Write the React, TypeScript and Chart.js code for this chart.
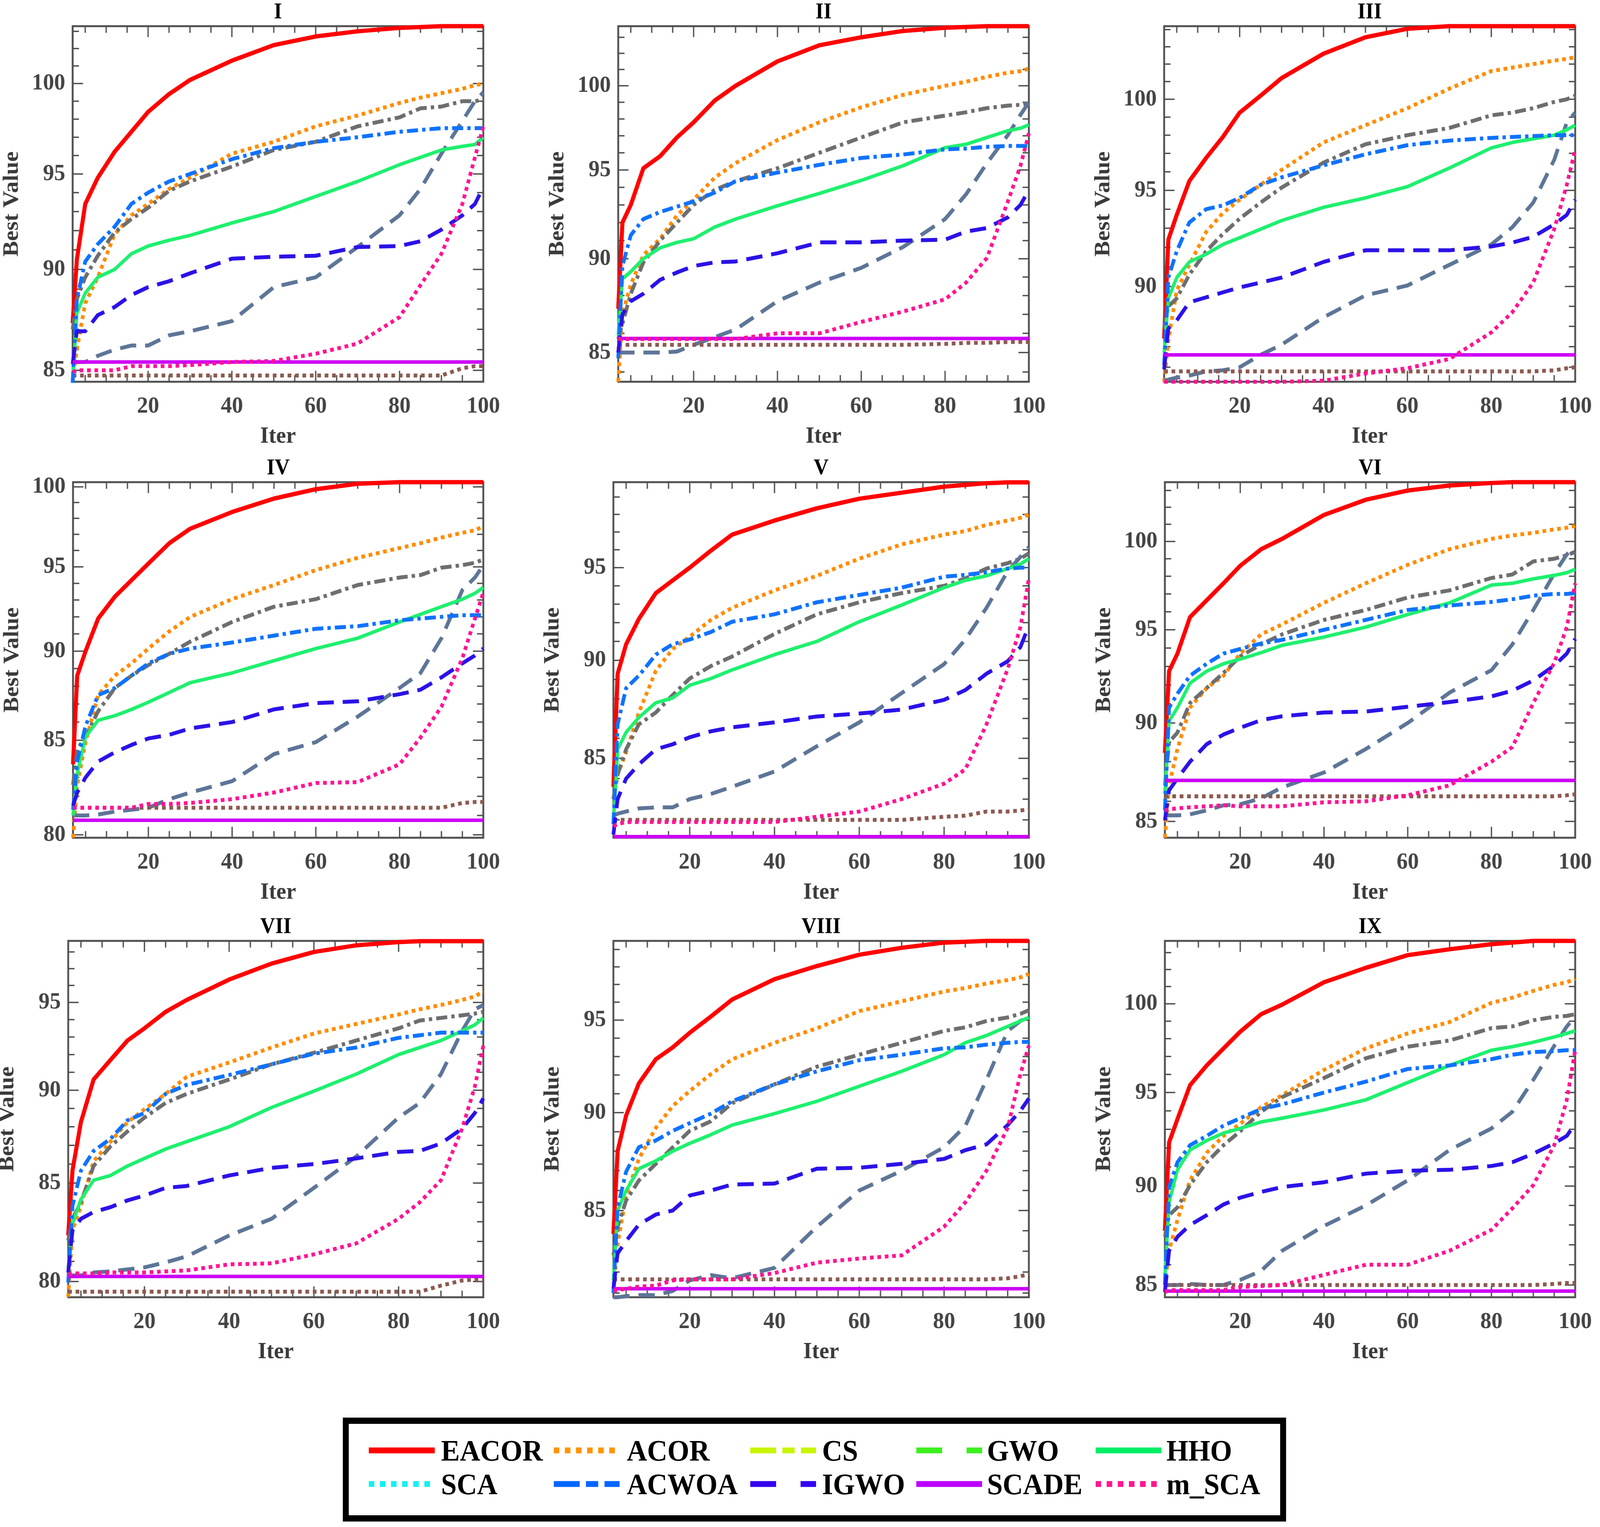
import { useEffect, useRef } from "react";
import { Chart, registerables } from "chart.js";

Chart.register(...registerables);

const SERIF = '"Liberation Serif", "Times New Roman", serif';

const ITERS = [2, 3, 5, 8, 12, 16, 20, 25, 30, 40, 50, 60, 70, 80, 85, 90, 95, 98, 100];

const PANEL_TITLES = ["I", "II", "III", "IV", "V", "VI", "VII", "VIII", "IX"];
const Y_MIN = [84.45, 83.5, 85.3, 79.85, 81.15, 84.2, 79.23, 80.8, 84.4];
const Y_MAX = [103.3, 103.7, 104.2, 100.3, 99.86, 103.5, 98.67, 99.5, 103.7];
const Y_TICKS = [
  [85, 90, 95, 100],
  [85, 90, 95, 100],
  [90, 95, 100],
  [80, 85, 90, 95, 100],
  [85, 90, 95],
  [85, 90, 95, 100],
  [80, 85, 90, 95],
  [85, 90, 95],
  [85, 90, 95, 100],
];
const X_TICKS = [20, 40, 60, 80, 100];

const EACOR = [
  [87.3, 90.5, 93.4, 94.8, 96.2, 97.3, 98.4, 99.4, 100.2, 101.3, 102.2, 102.7, 103.0, 103.2, 103.25, 103.3, 103.3, 103.3, 103.3],
  [87.3, 92.0, 93.0, 95.1, 95.8, 96.9, 97.8, 99.1, 100.0, 101.5, 102.5, 103.0, 103.4, 103.6, 103.65, 103.7, 103.7, 103.7, 103.7],
  [87.4, 92.4, 93.7, 95.5, 96.75, 97.9, 99.25, 100.2, 101.2, 102.6, 103.55, 104.05, 104.2, 104.2, 104.2, 104.2, 104.2, 104.2, 104.2],
  [83.7, 88.6, 90.0, 91.9, 93.2, 94.2, 95.2, 96.45, 97.35, 98.4, 99.25, 99.85, 100.2, 100.3, 100.3, 100.3, 100.3, 100.3, 100.3],
  [83.6, 89.3, 90.85, 92.2, 93.6, 94.3, 95.0, 95.95, 96.85, 97.65, 98.35, 98.9, 99.25, 99.6, 99.7, 99.8, 99.85, 99.85, 99.85],
  [88.45, 92.75, 93.7, 95.7, 96.65, 97.6, 98.6, 99.55, 100.15, 101.55, 102.45, 103.0, 103.3, 103.45, 103.5, 103.5, 103.5, 103.5, 103.5],
  [82.3, 85.65, 88.25, 90.6, 91.7, 92.8, 93.5, 94.45, 95.15, 96.35, 97.3, 98.0, 98.4, 98.6, 98.65, 98.65, 98.65, 98.65, 98.65],
  [83.85, 88.0, 89.85, 91.55, 92.85, 93.5, 94.3, 95.2, 96.15, 97.3, 98.05, 98.7, 99.1, 99.4, 99.45, 99.5, 99.5, 99.5, 99.5],
  [87.7, 92.3, 93.55, 95.4, 96.5, 97.45, 98.4, 99.4, 99.95, 101.25, 102.1, 102.85, 103.2, 103.5, 103.6, 103.7, 103.7, 103.7, 103.7],
];

const ACOR = [
  [84.5, 86.0, 88.3, 89.6, 91.8, 92.8, 93.4, 94.2, 94.8, 96.1, 96.75, 97.6, 98.2, 98.9, 99.2, 99.45, 99.7, 99.9, 100.0],
  [83.5, 87.0, 88.6, 90.2, 91.1, 92.4, 93.3, 94.55, 95.4, 96.75, 97.8, 98.7, 99.45, 100.0, 100.25, 100.55, 100.8, 100.9, 101.05],
  [85.3, 87.3, 89.8, 91.1, 92.8, 93.8, 94.5, 95.3, 96.1, 97.6, 98.55, 99.5, 100.6, 101.6, 101.8, 102.0, 102.2, 102.3, 102.4],
  [79.85, 82.6, 84.9, 87.5, 88.6, 89.3, 90.15, 91.15, 92.0, 93.05, 93.9, 94.8, 95.55, 96.15, 96.45, 96.8, 97.1, 97.25, 97.5],
  [83.0, 84.2, 85.3, 87.3, 89.45, 90.6, 91.25, 92.15, 92.8, 93.75, 94.55, 95.5, 96.3, 96.85, 97.05, 97.4, 97.65, 97.8, 98.0],
  [84.2, 86.8, 88.65, 90.8, 91.85, 92.5, 93.7, 94.75, 95.3, 96.5, 97.6, 98.65, 99.55, 100.15, 100.35, 100.5, 100.7, 100.8, 100.9],
  [79.25, 82.55, 83.8, 86.15, 87.2, 88.25, 88.95, 89.8, 90.75, 91.55, 92.4, 93.2, 93.75, 94.3, 94.6, 94.85, 95.15, 95.35, 95.65],
  [81.0, 83.35, 85.75, 87.6, 89.2, 90.35, 91.15, 92.05, 92.85, 93.75, 94.55, 95.5, 96.05, 96.6, 96.8, 97.05, 97.25, 97.4, 97.6],
  [85.0, 86.7, 88.25, 90.3, 91.75, 92.65, 93.3, 94.2, 94.85, 96.25, 97.45, 98.3, 98.95, 100.05, 100.35, 100.75, 101.1, 101.25, 101.45],
];

const CS = [
  [87.0, 88.5, 89.6, 90.7, 91.9, 92.6, 93.2, 94.1, 94.6, 95.4, 96.3, 96.75, 97.6, 98.1, 98.6, 98.7, 99.0, 99.0, 99.1],
  [85.7, 86.5, 88.1, 89.8, 91.0, 92.0, 93.0, 93.85, 94.35, 95.1, 96.0, 96.9, 97.8, 98.2, 98.4, 98.65, 98.8, 98.85, 98.95],
  [87.9, 89.0, 89.4, 90.6, 91.8, 92.7, 93.5, 94.35, 95.15, 96.5, 97.5, 98.0, 98.4, 99.1, 99.25, 99.5, 99.85, 100.0, 100.2],
  [82.6, 84.5, 85.2, 86.6, 87.9, 88.6, 89.2, 89.85, 90.55, 91.7, 92.6, 93.05, 93.9, 94.35, 94.5, 94.95, 95.1, 95.25, 95.45],
  [83.0, 84.2, 85.45, 86.7, 87.3, 88.2, 89.05, 89.7, 90.2, 91.4, 92.45, 93.1, 93.6, 94.0, 94.4, 94.95, 95.25, 95.5, 95.8],
  [86.8, 89.0, 89.5, 91.05, 91.85, 92.65, 93.55, 94.2, 94.75, 95.55, 96.1, 96.8, 97.2, 97.9, 98.1, 98.85, 99.0, 99.2, 99.4],
  [82.05, 83.15, 84.0, 85.9, 86.95, 87.75, 88.5, 89.3, 89.8, 90.6, 91.45, 92.1, 92.8, 93.5, 93.95, 94.1, 94.25, 94.35, 94.45],
  [82.8, 84.2, 85.5, 86.5, 87.35, 88.2, 89.05, 89.55, 90.5, 91.5, 92.45, 93.1, 93.75, 94.4, 94.6, 94.95, 95.15, 95.35, 95.55],
  [87.4, 88.5, 88.9, 90.05, 91.25, 92.15, 92.9, 93.95, 94.75, 95.8, 96.9, 97.55, 97.9, 98.6, 98.7, 99.05, 99.25, 99.3, 99.4],
];

const GWO = [
  [85.5, 85.4, 85.4, 85.7, 86.0, 86.2, 86.2, 86.7, 86.9, 87.4, 89.1, 89.6, 91.15, 92.8, 94.2, 96.1, 97.9, 99.0, 99.5],
  [85.0, 85.0, 85.0, 85.0, 85.0, 85.05, 85.4, 85.8, 86.2, 87.7, 88.7, 89.5, 90.65, 92.2, 93.6, 95.4, 97.05, 98.25, 99.0],
  [85.35, 85.4, 85.5, 85.6, 85.8, 85.85, 86.0, 86.6, 87.1, 88.45, 89.55, 90.05, 91.1, 92.15, 93.05, 94.35, 96.65, 98.7, 99.25],
  [81.0, 81.0, 81.0, 81.05, 81.2, 81.3, 81.4, 81.85, 82.2, 82.8, 84.25, 84.9, 86.3, 87.9, 88.75, 90.75, 93.6, 94.35, 95.1],
  [82.2, 82.3, 82.4, 82.55, 82.6, 82.6, 83.0, 83.25, 83.6, 84.35, 85.6, 86.8, 88.3, 89.8, 91.1, 92.8, 94.8, 95.6, 96.15],
  [85.3, 85.3, 85.3, 85.35, 85.55, 85.8, 85.85, 86.15, 86.7, 87.45, 88.65, 90.0, 91.6, 92.8, 94.2, 96.1, 98.15, 99.25, 99.7],
  [80.3, 80.3, 80.3, 80.45, 80.5, 80.6, 80.7, 80.95, 81.25, 82.3, 83.15, 84.75, 86.4, 88.5, 89.3, 90.9, 93.35, 94.6, 94.85],
  [80.8, 80.8, 80.85, 80.9, 80.9, 81.1, 81.6, 81.85, 81.7, 82.2, 84.2, 86.0, 87.0, 88.2, 89.3, 91.75, 94.4, 94.95, 95.2],
  [85.0, 85.0, 85.0, 85.05, 85.0, 85.0, 85.25, 85.7, 86.7, 87.95, 89.0, 90.3, 91.9, 93.05, 93.95, 95.7, 97.6, 98.7, 99.25],
];

const HHO = [
  [84.5, 87.8, 88.8, 89.6, 90.0, 90.8, 91.2, 91.5, 91.75, 92.4, 93.0, 93.8, 94.6, 95.5, 95.9, 96.3, 96.5, 96.6, 97.0],
  [85.9, 88.9, 89.3, 90.0, 90.6, 90.9, 91.1, 91.75, 92.2, 92.95, 93.65, 94.4, 95.25, 96.3, 96.5, 96.9, 97.3, 97.45, 97.65],
  [86.7, 89.4, 90.45, 91.25, 91.65, 92.15, 92.5, 92.95, 93.4, 94.1, 94.6, 95.2, 96.2, 97.3, 97.6, 97.8, 98.0, 98.3, 98.55],
  [81.0, 83.2, 85.2, 86.1, 86.35, 86.7, 87.1, 87.65, 88.2, 88.75, 89.45, 90.15, 90.75, 91.7, 92.15, 92.6, 93.05, 93.4, 93.75],
  [81.8, 85.45, 86.3, 87.05, 87.8, 88.05, 88.7, 89.05, 89.5, 90.3, 91.0, 92.05, 92.95, 93.9, 94.3, 94.55, 94.95, 95.2, 95.5],
  [86.4, 90.1, 90.8, 92.1, 92.75, 93.15, 93.4, 93.75, 94.15, 94.6, 95.15, 95.85, 96.5, 97.5, 97.6, 97.85, 98.05, 98.2, 98.4],
  [80.65, 82.9, 84.15, 85.15, 85.4, 85.9, 86.3, 86.8, 87.2, 88.0, 89.05, 89.95, 90.9, 92.0, 92.4, 92.8, 93.35, 93.7, 94.1],
  [81.6, 85.0, 86.0, 87.1, 87.5, 88.0, 88.4, 88.85, 89.35, 89.95, 90.6, 91.4, 92.2, 93.1, 93.75, 94.15, 94.65, 94.95, 95.15],
  [85.35, 89.15, 90.85, 91.9, 92.4, 92.8, 93.05, 93.4, 93.6, 94.05, 94.6, 95.55, 96.5, 97.35, 97.55, 97.8, 98.1, 98.3, 98.45],
];

const SCA = [
  [84.75, 84.75, 84.75, 84.75, 84.75, 84.75, 84.75, 84.75, 84.75, 84.75, 84.75, 84.75, 84.75, 84.75, 84.75, 84.75, 85.1, 85.2, 85.2],
  [85.4, 85.4, 85.4, 85.4, 85.4, 85.4, 85.4, 85.4, 85.4, 85.4, 85.4, 85.4, 85.4, 85.45, 85.5, 85.5, 85.55, 85.55, 85.55],
  [85.8, 85.8, 85.8, 85.8, 85.8, 85.8, 85.8, 85.8, 85.8, 85.8, 85.8, 85.8, 85.8, 85.8, 85.8, 85.8, 85.85, 85.95, 86.0],
  [81.4, 81.4, 81.4, 81.4, 81.4, 81.4, 81.4, 81.4, 81.4, 81.4, 81.4, 81.4, 81.4, 81.4, 81.4, 81.4, 81.65, 81.7, 81.7],
  [82.0, 82.0, 82.0, 82.0, 82.0, 82.0, 82.0, 82.0, 82.0, 82.0, 82.0, 82.0, 82.0, 82.15, 82.2, 82.4, 82.4, 82.45, 82.5],
  [86.25, 86.25, 86.25, 86.25, 86.25, 86.25, 86.25, 86.25, 86.25, 86.25, 86.25, 86.25, 86.25, 86.25, 86.25, 86.25, 86.25, 86.3, 86.35],
  [79.5, 79.5, 79.5, 79.5, 79.5, 79.5, 79.5, 79.5, 79.5, 79.5, 79.5, 79.5, 79.5, 79.5, 79.5, 79.8, 80.05, 80.1, 80.1],
  [81.65, 81.65, 81.65, 81.65, 81.65, 81.65, 81.65, 81.65, 81.65, 81.65, 81.65, 81.65, 81.65, 81.65, 81.65, 81.65, 81.7, 81.8, 81.9],
  [85.0, 85.0, 85.0, 85.0, 85.0, 85.0, 85.0, 85.0, 85.0, 85.0, 85.0, 85.0, 85.0, 85.0, 85.0, 85.0, 85.05, 85.1, 85.1],
];

const ACWOA = [
  [84.4, 88.5, 90.4, 91.3, 92.2, 93.4, 94.0, 94.6, 95.0, 95.8, 96.4, 96.75, 97.0, 97.3, 97.4, 97.5, 97.5, 97.5, 97.5],
  [84.7, 89.6, 91.3, 92.2, 92.6, 92.9, 93.2, 93.7, 94.35, 94.85, 95.3, 95.7, 95.9, 96.2, 96.25, 96.35, 96.4, 96.4, 96.4],
  [86.1, 90.45, 91.8, 93.3, 94.0, 94.2, 94.6, 95.3, 95.7, 96.35, 96.95, 97.45, 97.7, 97.85, 97.9, 97.95, 98.0, 98.0, 98.0],
  [81.3, 83.85, 85.8, 87.5, 87.9, 88.6, 89.3, 89.85, 90.15, 90.5, 90.9, 91.3, 91.45, 91.8, 91.9, 92.0, 92.1, 92.1, 92.1],
  [81.8, 86.7, 88.55, 89.2, 90.3, 90.85, 91.1, 91.5, 92.05, 92.45, 93.1, 93.5, 93.9, 94.5, 94.6, 94.75, 94.95, 95.0, 95.0],
  [85.55, 90.8, 91.55, 92.5, 93.15, 93.7, 93.95, 94.25, 94.45, 95.0, 95.55, 96.1, 96.35, 96.55, 96.7, 96.9, 97.0, 97.0, 97.05],
  [79.95, 83.8, 85.65, 86.7, 87.35, 88.35, 88.75, 89.8, 90.3, 90.85, 91.45, 92.05, 92.4, 92.95, 93.1, 93.25, 93.25, 93.25, 93.25],
  [81.0, 85.15, 86.95, 88.2, 88.55, 89.05, 89.45, 89.95, 90.6, 91.5, 92.2, 92.8, 93.1, 93.45, 93.5, 93.65, 93.75, 93.8, 93.8],
  [85.0, 89.95, 91.25, 92.15, 92.65, 93.2, 93.6, 94.1, 94.35, 95.0, 95.6, 96.3, 96.5, 96.85, 97.1, 97.25, 97.3, 97.35, 97.35],
];

const IGWO = [
  [85.3, 86.9, 86.9, 87.7, 88.1, 88.7, 89.1, 89.4, 89.8, 90.55, 90.65, 90.7, 91.15, 91.2, 91.45, 92.05, 92.8, 93.4, 94.3],
  [85.0, 87.0, 87.7, 88.1, 88.85, 89.25, 89.6, 89.8, 89.85, 90.3, 90.9, 90.9, 91.0, 91.05, 91.5, 91.7, 92.3, 93.0, 93.85],
  [85.9, 87.9, 88.3, 89.2, 89.45, 89.7, 89.95, 90.2, 90.45, 91.25, 91.85, 91.85, 91.85, 92.05, 92.25, 92.55, 93.2, 93.7, 94.5],
  [81.5, 82.2, 83.0, 83.85, 84.35, 84.75, 85.1, 85.3, 85.65, 86.0, 86.7, 87.05, 87.15, 87.55, 87.8, 88.5, 89.3, 89.75, 90.15],
  [81.3, 83.0, 84.0, 84.7, 85.45, 85.7, 86.05, 86.35, 86.55, 86.8, 87.1, 87.25, 87.45, 87.95, 88.45, 89.3, 89.95, 90.7, 91.85],
  [85.05, 86.55, 87.15, 88.0, 88.9, 89.4, 89.75, 90.15, 90.35, 90.55, 90.6, 90.85, 91.1, 91.4, 91.7, 92.25, 93.05, 93.7, 94.5],
  [80.45, 82.55, 83.15, 83.5, 83.75, 84.1, 84.35, 84.75, 84.85, 85.4, 85.8, 86.0, 86.3, 86.65, 86.7, 87.1, 87.9, 88.75, 89.55],
  [81.2, 82.9, 83.5, 84.3, 84.8, 85.0, 85.75, 86.0, 86.3, 86.35, 87.1, 87.15, 87.35, 87.6, 88.05, 88.35, 89.35, 90.1, 90.75],
  [84.65, 86.7, 87.4, 88.0, 88.5, 89.05, 89.4, 89.7, 89.95, 90.2, 90.65, 90.8, 90.85, 91.05, 91.25, 91.7, 92.25, 92.65, 93.3],
];

const SCADE = [
  [85.4, 85.4, 85.4, 85.4, 85.4, 85.4, 85.4, 85.4, 85.4, 85.4, 85.4, 85.4, 85.4, 85.4, 85.4, 85.4, 85.4, 85.4, 85.4],
  [85.73, 85.73, 85.73, 85.73, 85.73, 85.73, 85.73, 85.73, 85.73, 85.73, 85.73, 85.73, 85.73, 85.73, 85.73, 85.73, 85.73, 85.73, 85.73],
  [86.6, 86.6, 86.6, 86.6, 86.6, 86.6, 86.6, 86.6, 86.6, 86.6, 86.6, 86.6, 86.6, 86.6, 86.6, 86.6, 86.6, 86.6, 86.6],
  [80.75, 80.75, 80.75, 80.75, 80.75, 80.75, 80.75, 80.75, 80.75, 80.75, 80.75, 80.75, 80.75, 80.75, 80.75, 80.75, 80.75, 80.75, 80.75],
  [81.2, 81.2, 81.2, 81.2, 81.2, 81.2, 81.2, 81.2, 81.2, 81.2, 81.2, 81.2, 81.2, 81.2, 81.2, 81.2, 81.2, 81.2, 81.2],
  [87.05, 87.05, 87.05, 87.05, 87.05, 87.05, 87.05, 87.05, 87.05, 87.05, 87.05, 87.05, 87.05, 87.05, 87.05, 87.05, 87.05, 87.05, 87.05],
  [80.25, 80.25, 80.25, 80.25, 80.25, 80.25, 80.25, 80.25, 80.25, 80.25, 80.25, 80.25, 80.25, 80.25, 80.25, 80.25, 80.25, 80.25, 80.25],
  [81.2, 81.2, 81.2, 81.2, 81.2, 81.2, 81.2, 81.2, 81.2, 81.2, 81.2, 81.2, 81.2, 81.2, 81.2, 81.2, 81.2, 81.2, 81.2],
  [84.7, 84.7, 84.7, 84.7, 84.7, 84.7, 84.7, 84.7, 84.7, 84.7, 84.7, 84.7, 84.7, 84.7, 84.7, 84.7, 84.7, 84.7, 84.7],
];

const M_SCA = [
  [84.9, 85.0, 85.0, 85.0, 85.0, 85.2, 85.2, 85.2, 85.25, 85.4, 85.45, 85.8, 86.3, 87.6, 89.2, 90.8, 93.4, 95.9, 97.6],
  [85.7, 85.7, 85.7, 85.7, 85.7, 85.7, 85.7, 85.7, 85.7, 86.0, 86.0, 86.6, 87.15, 87.8, 88.7, 90.05, 93.2, 95.25, 97.15],
  [85.3, 85.3, 85.3, 85.3, 85.3, 85.3, 85.3, 85.3, 85.3, 85.35, 85.7, 85.95, 86.4, 87.7, 88.7, 90.2, 92.95, 95.3, 97.2],
  [81.4, 81.4, 81.4, 81.4, 81.4, 81.4, 81.6, 81.6, 81.65, 81.85, 82.2, 82.7, 82.75, 83.7, 85.15, 86.85, 89.6, 91.9, 93.45],
  [81.7, 81.8, 81.9, 81.9, 81.9, 81.9, 81.9, 81.9, 81.9, 81.9, 82.15, 82.4, 83.0, 83.75, 84.45, 86.7, 89.55, 91.75, 94.4],
  [85.55, 85.6, 85.65, 85.7, 85.75, 85.8, 85.75, 85.75, 85.75, 85.95, 86.0, 86.3, 86.8, 88.0, 88.75, 91.05, 93.2, 95.15, 97.6],
  [80.35, 80.4, 80.4, 80.4, 80.45, 80.45, 80.45, 80.5, 80.55, 80.85, 80.9, 81.35, 81.9, 83.15, 84.0, 85.15, 87.9, 90.2, 92.5],
  [81.1, 81.15, 81.2, 81.3, 81.35, 81.6, 81.65, 81.65, 81.65, 81.95, 82.45, 82.65, 82.8, 84.2, 85.4, 87.0, 89.2, 92.05, 93.6],
  [84.65, 84.75, 84.75, 84.75, 84.75, 84.75, 84.9, 84.95, 85.0, 85.5, 86.0, 86.0, 86.7, 87.75, 88.85, 90.05, 92.15, 94.6, 97.35],
];

// line styles used inside the panels
const SERIES = [
  { name: "EACOR", values: EACOR, color: "#ff0000", dash: [], width: 11 },
  { name: "ACOR", values: ACOR, color: "#ff8c00", dash: [10, 10], width: 10 },
  { name: "CS", values: CS, color: "#6e6e6e", dash: [30, 11, 9, 11], width: 10 },
  { name: "GWO", values: GWO, color: "#5d7597", dash: [44, 24], width: 10 },
  { name: "HHO", values: HHO, color: "#1ef06e", dash: [], width: 9 },
  { name: "SCA", values: SCA, color: "#8c5a50", dash: [10, 10], width: 10 },
  { name: "ACWOA", values: ACWOA, color: "#0f72ff", dash: [30, 11, 9, 11], width: 10 },
  { name: "IGWO", values: IGWO, color: "#2b12e8", dash: [44, 24], width: 10 },
  { name: "SCADE", values: SCADE, color: "#cc00f5", dash: [], width: 9 },
  { name: "m_SCA", values: M_SCA, color: "#ff1493", dash: [10, 10], width: 10 },
];

// swatches of the legend box
const LEGEND = [
  { name: "EACOR", color: "#ff0000", dash: "" },
  { name: "ACOR", color: "#ff9400", dash: "15 15" },
  { name: "CS", color: "#c8f500", dash: "70 17 33 17" },
  { name: "GWO", color: "#3cf01e", dash: "70 66" },
  { name: "HHO", color: "#00ee66", dash: "" },
  { name: "SCA", color: "#14f0f0", dash: "15 15" },
  { name: "ACWOA", color: "#0066ff", dash: "70 17 33 17" },
  { name: "IGWO", color: "#3300ee", dash: "70 66" },
  { name: "SCADE", color: "#bb00ff", dash: "" },
  { name: "m_SCA", color: "#ff1493", dash: "15 15" },
];

// page layout (px, in the 4317 x 3908 design frame)
const PAGE_W = 4317;
const PAGE_H = 3908;
const PLOT_LEFT = [196, 1668, 3141, 197, 1655, 3143, 184, 1655, 3143];
const COL_RIGHT = [1316, 2788, 4262];
const ROW_TOP = [67, 1234, 2408];
const ROW_BOTTOM = [977, 2144, 3320];
const AXIS_W = 200;
const TITLE_H = 80;
const XAXIS_H = 190;
const RIGHT_PAD = 60;

const framePlugin = {
  id: "matlabFrame",
  beforeDatasetsDraw(chart: any) {
    const { ctx, chartArea: a } = chart;
    const x = chart.scales.x;
    const y = chart.scales.y;
    ctx.save();
    ctx.strokeStyle = "#505050";
    ctx.lineWidth = 3.5;
    ctx.beginPath();
    for (let v = Math.ceil(y.min); v <= Math.floor(y.max); v++) {
      const py = y.getPixelForValue(v);
      const len = v % 5 === 0 ? 28 : 17;
      ctx.moveTo(a.left, py);
      ctx.lineTo(a.left + len, py);
      ctx.moveTo(a.right, py);
      ctx.lineTo(a.right - len, py);
    }
    for (let v = 5; v <= 100; v += 5) {
      const px = x.getPixelForValue(v);
      const len = v % 20 === 0 ? 28 : 17;
      ctx.moveTo(px, a.bottom);
      ctx.lineTo(px, a.bottom - len);
      ctx.moveTo(px, a.top);
      ctx.lineTo(px, a.top + len);
    }
    ctx.stroke();
    ctx.lineWidth = 5;
    ctx.strokeRect(a.left, a.top, a.right - a.left, a.bottom - a.top);
    ctx.restore();
  },
};

function Panel({ index }: { index: number }) {
  const canvasRef = useRef<HTMLCanvasElement>(null);
  const col = index % 3;
  const row = Math.floor(index / 3);
  const left = PLOT_LEFT[index] - AXIS_W;
  const top = ROW_TOP[row] - TITLE_H;
  const width = COL_RIGHT[col] - PLOT_LEFT[index] + AXIS_W + RIGHT_PAD;
  const height = ROW_BOTTOM[row] - ROW_TOP[row] + TITLE_H + XAXIS_H;

  useEffect(() => {
    if (!canvasRef.current) return;
    const tickFont = { family: SERIF, size: 60, weight: "bold" as const, lineHeight: 1.2 };
    const chart = new Chart(canvasRef.current, {
      type: "line",
      data: {
        datasets: SERIES.map((s, i) => ({
          label: s.name,
          data: ITERS.map((it, k) => ({ x: it, y: s.values[index][k] })),
          borderColor: s.color,
          backgroundColor: s.color,
          borderWidth: s.width,
          borderDash: s.dash,
          borderCapStyle: "butt" as const,
          borderJoinStyle: "round" as const,
          pointRadius: 0,
          pointHoverRadius: 0,
          fill: false,
          tension: 0,
          clip: 10,
          order: SERIES.length - i,
        })),
      },
      options: {
        animation: false,
        responsive: false,
        events: [],
        layout: { padding: { left: 0, right: RIGHT_PAD, top: 0, bottom: 0 } },
        scales: {
          x: {
            type: "linear",
            min: 2,
            max: 100,
            afterBuildTicks: (scale: any) => {
              scale.ticks = X_TICKS.map((v) => ({ value: v }));
            },
            afterFit: (scale: any) => {
              scale.height = XAXIS_H;
            },
            grid: { display: false, drawTicks: false },
            border: { display: false },
            ticks: { font: tickFont, color: "#444444", padding: 27, maxRotation: 0, autoSkip: false },
            title: {
              display: true,
              text: "Iter",
              font: tickFont,
              color: "#3a3a3a",
              padding: { top: 0, bottom: 14 },
            },
          },
          y: {
            type: "logarithmic",
            min: Y_MIN[index],
            max: Y_MAX[index],
            afterBuildTicks: (scale: any) => {
              scale.ticks = Y_TICKS[index].map((v) => ({ value: v }));
            },
            afterFit: (scale: any) => {
              scale.width = AXIS_W;
            },
            grid: { display: false, drawTicks: false },
            border: { display: false },
            ticks: {
              font: tickFont,
              color: "#444444",
              padding: 20,
              autoSkip: false,
              callback: (v: any) => String(v),
            },
            title: {
              display: true,
              text: "Best Value",
              font: tickFont,
              color: "#3a3a3a",
              padding: { top: 0, bottom: 0 },
            },
          },
        },
        plugins: {
          legend: { display: false },
          tooltip: { enabled: false },
          title: {
            display: true,
            text: PANEL_TITLES[index],
            fullSize: false,
            color: "#000000",
            font: { family: SERIF, size: 56, weight: "bold", lineHeight: 1.2 },
            padding: { top: 12.4, bottom: 0.4 },
          },
        },
      },
      plugins: [framePlugin],
    });
    return () => {
      chart.destroy();
    };
  }, [index]);

  return (
    <div style={{ position: "absolute", left, top, width, height }}>
      <canvas ref={canvasRef} width={width} height={height} style={{ width, height }} />
    </div>
  );
}

const LEGEND_LINE_X = [995, 1494, 2024, 2472, 2956];
const LEGEND_TEXT_X = [1190, 1691, 2218, 2663, 3147];
const LEGEND_ROW_Y = [3712, 3798];

function Legend() {
  return (
    <>
      <div
        style={{
          position: "absolute",
          left: 925,
          top: 3628,
          width: 2545,
          height: 266,
          border: "16px solid #000",
          boxSizing: "border-box",
          background: "#fff",
        }}
      />
      {LEGEND.map((item, i) => {
        const col = i % 5;
        const rowY = LEGEND_ROW_Y[Math.floor(i / 5)];
        return (
          <div key={item.name}>
            <svg
              width={178}
              height={24}
              style={{ position: "absolute", left: LEGEND_LINE_X[col], top: rowY - 12 }}
            >
              <line
                x1={0}
                y1={12}
                x2={178}
                y2={12}
                stroke={item.color}
                strokeWidth={15}
                strokeDasharray={item.dash || undefined}
              />
            </svg>
            <div
              style={{
                position: "absolute",
                left: LEGEND_TEXT_X[col],
                top: rowY - 38,
                height: 76,
                lineHeight: "76px",
                fontFamily: SERIF,
                fontWeight: "bold",
                fontSize: 76,
                color: "#000",
                whiteSpace: "nowrap",
              }}
            >
              {item.name}
            </div>
          </div>
        );
      })}
    </>
  );
}

export default function App() {
  // fit the design frame into whatever viewport the page actually gets
  const vw = document.documentElement.clientWidth || window.innerWidth || PAGE_W;
  const vh = window.innerHeight || PAGE_H;
  const sx = Math.min(1, vw / PAGE_W);
  const sy = Math.min(1, vh / PAGE_H);

  return (
    <div
      style={{
        position: "fixed",
        left: 0,
        top: 0,
        width: PAGE_W * sx,
        height: PAGE_H * sy,
        overflow: "hidden",
        background: "#fff",
      }}
    >
      <div
        style={{
          position: "absolute",
          left: 0,
          top: 0,
          width: PAGE_W,
          height: PAGE_H,
          transform: `scale(${sx}, ${sy})`,
          transformOrigin: "0 0",
          background: "#fff",
        }}
      >
        {PANEL_TITLES.map((t, i) => (
          <Panel key={t} index={i} />
        ))}
        <Legend />
      </div>
    </div>
  );
}
